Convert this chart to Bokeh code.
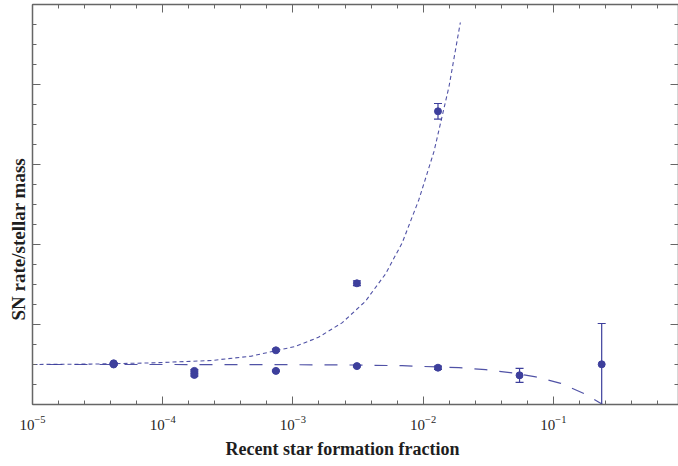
from bokeh.plotting import figure
from bokeh.models import (LogAxis, LinearAxis, FixedTicker, Range1d, Whisker, TeeHead,
                          ColumnDataSource, Title, LogTickFormatter, LogTicker,
                          CustomJSTickFormatter)
from bokeh.embed import file_html
from bokeh.resources import INLINE

# ---------------- data ----------------
frac = [4.2e-5, 1.75e-4, 7.4e-4, 3.1e-3, 1.3e-2, 5.5e-2, 0.235]

upper_x = frac[:5]
upper_y = [1.03, 0.84, 1.355, 3.03, 7.33]
upper_err = [0.02, 0.03, 0.03, 0.06, 0.195]

lower_x = frac
lower_y = [1.0, 0.74, 0.84, 0.96, 0.92, 0.73, 1.005]
lower_err = [0.02, 0.03, 0.02, 0.02, 0.04, 0.175, 1.02]

curve_up_x = [1e-5, 2.8e-5, 8.2e-5, 2.37e-4, 4.8e-4, 1.04e-3, 1.57e-3, 2.38e-3,
              3.6e-3, 5.13e-3, 6.9e-3, 9.27e-3, 1.21e-2, 1.58e-2, 1.93e-2]
curve_up_y = [1.0, 1.01, 1.04, 1.10, 1.21, 1.45, 1.68, 2.04,
              2.58, 3.26, 4.04, 5.12, 6.32, 7.95, 9.55]

curve_lo_x = [1e-5, 1e-4, 1e-3, 3e-3, 6.9e-3, 1.88e-2, 3.02e-2, 4.85e-2,
              7.33e-2, 0.114, 0.178, 0.239, 0.25]
curve_lo_y = [1.0, 1.0, 0.995, 0.987, 0.97, 0.92, 0.87, 0.79,
              0.69, 0.53, 0.25, 0.0, -0.05]

x_major = [1e-5, 1e-4, 1e-3, 1e-2, 1e-1]
x_minor = [10 ** (-5 + 0.2 * i) for i in range(26)]
y_major = [0, 2, 4, 6, 8, 10]
y_minor = [0.5 * i for i in range(21)]

x_title = "Recent star formation fraction"
y_title = "SN rate/stellar mass"

# ---------------- styling ----------------
C = "#3d3f9c"
AX = "#666666"
FONT = "Liberation Serif"
TXT = "#1e1e1e"

p = figure(width=678, height=466, x_axis_type="log",
           x_range=Range1d(1e-5, 0.914), y_range=Range1d(0, 10),
           output_backend="svg", toolbar_location=None,
           min_border_left=32, min_border_right=0, min_border_top=4,
           min_border_bottom=62, background_fill_color="white",
           border_fill_color="white")
p.outline_line_color = None
p.xgrid.visible = False
p.ygrid.visible = False

xt = FixedTicker(ticks=x_major, minor_ticks=x_minor)
yt = FixedTicker(ticks=y_major, minor_ticks=y_minor)
blank = CustomJSTickFormatter(code="return '';")

def style(ax):
    ax.axis_line_color = AX
    ax.axis_line_width = 1.5
    ax.major_tick_line_color = AX
    ax.minor_tick_line_color = AX
    ax.major_tick_in = 8
    ax.major_tick_out = 0
    ax.minor_tick_in = 4
    ax.minor_tick_out = 0
    ax.major_tick_line_width = 1
    ax.minor_tick_line_width = 1

def hide_labels(ax):
    ax.formatter = blank
    ax.major_label_text_font_size = "1px"
    ax.major_label_standoff = 0

bx = p.xaxis[0]
bx.ticker = xt
bx.formatter = LogTickFormatter(ticker=LogTicker())
style(bx)
bx.major_label_text_font = FONT
bx.major_label_text_font_size = "15px"
bx.major_label_text_color = TXT
bx.major_label_standoff = 11

ly = p.yaxis[0]
ly.ticker = yt
style(ly)
hide_labels(ly)

top = LogAxis(ticker=xt)
style(top)
hide_labels(top)
p.add_layout(top, "above")

right = LinearAxis(ticker=yt)
style(right)
hide_labels(right)
p.add_layout(right, "right")

# ---------------- curves ----------------
p.line(curve_lo_x, curve_lo_y, line_color=C, line_width=1.2, line_dash="13 12",
       line_dash_offset=8, line_alpha=0.9)
p.line(curve_up_x, curve_up_y, line_color=C, line_width=1.1, line_dash="4 3", line_alpha=0.9)

# ---------------- points with error bars ----------------
su = ColumnDataSource(dict(x=upper_x, y=upper_y,
                           lo=[a - b for a, b in zip(upper_y, upper_err)],
                           hi=[a + b for a, b in zip(upper_y, upper_err)]))
sl = ColumnDataSource(dict(x=lower_x, y=lower_y,
                           lo=[a - b for a, b in zip(lower_y, lower_err)],
                           hi=[a + b for a, b in zip(lower_y, lower_err)]))
for s in (su, sl):
    p.add_layout(Whisker(base="x", lower="lo", upper="hi", source=s,
                         line_color=C, line_width=1.2,
                         upper_head=TeeHead(size=8, line_color=C, line_width=1.2),
                         lower_head=TeeHead(size=8, line_color=C, line_width=1.2)))
    p.scatter("x", "y", source=s, size=7, color=C)

# ---------------- titles ----------------
p.add_layout(Title(text=x_title, align="left", offset=193, standoff=9,
                   text_font=FONT, text_font_size="18px", text_font_style="bold",
                   text_color=TXT), "below")
p.add_layout(Title(text=y_title, align="left", offset=84, standoff=7,
                   text_font=FONT, text_font_size="19px", text_font_style="bold",
                   text_color=TXT), "left")

open("out.html", "w").write(file_html(p, INLINE))
